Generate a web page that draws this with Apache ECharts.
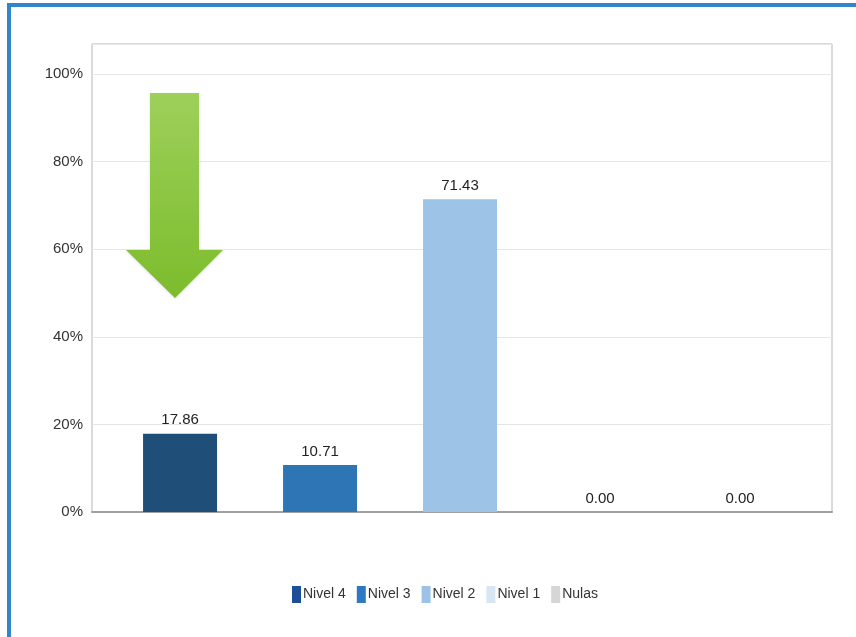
<!DOCTYPE html>
<html>
<head>
<meta charset="utf-8">
<script src="https://cdn.jsdelivr.net/npm/echarts@6/dist/echarts.min.js"></script>
<style>
html,body{margin:0;padding:0;background:#fff;}
#chart{width:856px;height:637px;}
</style>
</head>
<body>
<div id="chart"></div>
<script>
// ---- data ----
var seriesNames = ['Nivel 4', 'Nivel 3', 'Nivel 2', 'Nivel 1', 'Nulas'];
var seriesValues = [17.86, 10.71, 71.43, 0.00, 0.00];
var seriesColors = ['#1f4e79', '#2e75b6', '#9dc3e6', '#dce8f4', '#d4d4d4'];
var legendColors = ['#1c4f97', '#2f78c4', '#9cc2e8', '#d8e5f3', '#d6d6d6'];
var yTicks = [0, 20, 40, 60, 80, 100];

var FONT = '"Liberation Sans Narrow", "Liberation Sans", Arial, sans-serif';

var chart = echarts.init(document.getElementById('chart'), null, {renderer: 'canvas'});

var series = seriesNames.map(function (name, i) {
  return {
    name: name,
    type: 'bar',
    barWidth: 74,
    barGap: '-100%',
    data: [[i, seriesValues[i]]],
    itemStyle: {color: seriesColors[i]},
    label: {
      show: true,
      position: 'top',
      distance: 6,
      color: '#222',
      fontSize: 15,
      fontFamily: FONT,
      formatter: function (p) { return p.value[1].toFixed(2); }
    }
  };
});

var option = {
  animation: false,
  backgroundColor: '#fff',
  grid: {
    left: 92, right: 24, top: 44, bottom: 125,
    show: true, borderColor: '#b5b5b5', borderWidth: 1
  },
  xAxis: {
    type: 'value',
    min: -0.629,
    max: 4.657,
    axisLabel: {show: false},
    axisTick: {show: false},
    splitLine: {show: false},
    axisLine: {show: true, onZero: true, lineStyle: {color: '#a0a0a0', width: 2}}
  },
  yAxis: {
    type: 'value',
    min: yTicks[0],
    max: 106.85,
    interval: 20,
    axisLine: {show: false},
    axisTick: {show: false},
    splitLine: {lineStyle: {color: '#e6e6e6', width: 1}},
    axisLabel: {
      showMaxLabel: false,
      margin: 9,
      color: '#333',
      fontSize: 15,
      fontFamily: FONT,
      formatter: function (v) { return yTicks.indexOf(v) >= 0 ? v + '%' : ''; }
    }
  },
  legend: {
    left: 287,
    top: 581,
    itemWidth: 9,
    itemHeight: 17,
    itemGap: 11,
    icon: 'rect',
    textStyle: {color: '#333', fontSize: 14, fontFamily: FONT, padding: [0, 0, 0, -3]},
    data: seriesNames.map(function (n, i) {
      return {name: n, itemStyle: {color: legendColors[i]}};
    })
  },
  series: series,
  graphic: [
    {
      type: 'rect',
      z: 100,
      shape: {x: 9, y: 5, width: 900, height: 700},
      style: {fill: 'none', stroke: '#2f86cc', lineWidth: 4}
    },
    {
      type: 'polygon',
      z: 100,
      shape: {
        points: [[150, 93], [199, 93], [199, 250], [223, 250], [175, 298], [126, 250], [150, 250]]
      },
      style: {
        fill: new echarts.graphic.LinearGradient(0, 0, 0, 1, [
          {offset: 0, color: '#9dd05a'},
          {offset: 1, color: '#7cbc2c'}
        ]),
        shadowColor: 'rgba(0,0,0,0.12)',
        shadowBlur: 3,
        shadowOffsetY: 1
      }
    }
  ]
};

chart.setOption(option);
</script>
</body>
</html>
